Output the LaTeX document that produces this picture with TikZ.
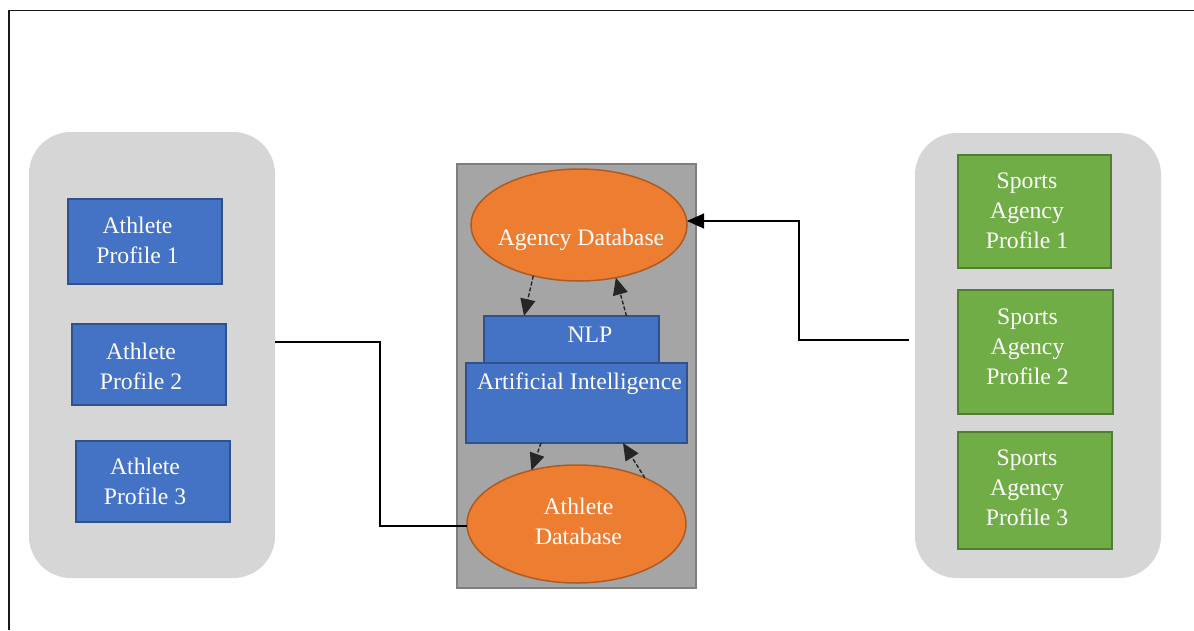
\documentclass[tikz,border=0pt]{standalone}
\usepackage{fontspec}
\setmainfont{Liberation Serif}
\usetikzlibrary{arrows.meta,shapes.geometric}
\definecolor{panelgray}{HTML}{D6D6D6}
\definecolor{coregray}{HTML}{A5A5A5}
\definecolor{coreedge}{HTML}{7F7F7F}
\definecolor{blueF}{HTML}{4472C4}
\definecolor{blueE}{HTML}{2F528F}
\definecolor{greenF}{HTML}{70AD47}
\definecolor{greenE}{HTML}{507E32}
\definecolor{orangeF}{HTML}{ED7D31}
\definecolor{orangeE}{HTML}{AE5A21}
\newcommand{\diagfont}{\fontsize{23.7}{30}\selectfont}
\tikzset{
  txt/.style={text=white, font=\diagfont, align=center, inner sep=0pt},
  panel/.style={fill=panelgray, draw=none, rounded corners=42pt, inner sep=0pt, outer sep=0pt},
  bluebox/.style={fill=blueF, draw=blueE, line width=1.8pt, inner sep=0pt, outer sep=0pt, minimum width=154pt},
  greenbox/.style={fill=greenF, draw=greenE, line width=1.8pt, inner sep=0pt, outer sep=0pt, minimum width=154pt},
  dbell/.style={ellipse, fill=orangeF, draw=orangeE, line width=1.5pt, inner sep=0pt, outer sep=0pt},
  link/.style={draw=black, line width=1.1pt},
  dlink/.style={draw=black!85, line width=1.4pt, dash pattern=on 4pt off 2pt, -{Triangle[length=17pt,width=15pt]}},
}
\begin{document}
\begin{tikzpicture}[x=1pt,y=-1pt]
\useasboundingbox (0,0) rectangle (1194,630);
\fill[white] (0,0) rectangle (1194,630);
% outer frame
\draw[line width=1.6pt, black!90] (1194,10.5) -- (9,10.5) -- (9,630);

% side panels
\node[panel, minimum width=246pt, minimum height=446pt] (lp) at (152,355) {};
\node[panel, minimum width=246pt, minimum height=445pt] (rp) at (1038,355.5) {};

% athlete profiles
\node[bluebox, minimum height=85pt, label={[txt,xshift=-7.5pt,yshift=1pt]center:{Athlete\\Profile 1}}] (ap1) at (145,241.5) {};
\node[bluebox, minimum height=81pt, label={[txt,xshift=-8pt,yshift=-1.5pt]center:{Athlete\\Profile 2}}] (ap2) at (149,364.5) {};
\node[bluebox, minimum height=81pt, label={[txt,xshift=-8pt,yshift=0pt]center:{Athlete\\Profile 3}}] (ap3) at (153,481.5) {};

% sports agency profiles
\node[greenbox, minimum width=153pt, minimum height=113pt, label={[txt,xshift=-7.5pt,yshift=1pt]center:{Sports\\Agency\\Profile 1}}] (sp1) at (1034.5,211.5) {};
\node[greenbox, minimum width=155pt, minimum height=124pt, label={[txt,xshift=-8pt,yshift=5pt]center:{Sports\\Agency\\Profile 2}}] (sp2) at (1035.5,352) {};
\node[greenbox, minimum height=117pt, label={[txt,xshift=-8pt,yshift=2.5pt]center:{Sports\\Agency\\Profile 3}}] (sp3) at (1035,490.5) {};

% central system
\node[fill=coregray, draw=coreedge, line width=2pt, minimum width=239pt, minimum height=424pt, inner sep=0pt, outer sep=0pt] (core) at (576.5,376) {};
\node[dbell, minimum width=216pt, minimum height=112pt, label={[txt,yshift=-15pt,xshift=2pt]center:Agency Database}] (agency) at (579,225) {};
\node[dbell, minimum width=219pt, minimum height=118pt, label={[txt,yshift=3pt,xshift=2pt]center:{Athlete\\Database}}] (athlete) at (576.5,524) {};
\node[bluebox, minimum width=175pt, minimum height=47pt, label={[txt,xshift=18.5pt,yshift=5pt]center:NLP}] (nlp) at (571.5,339.5) {};
\node[bluebox, minimum width=221pt, minimum height=80pt, label={[txt,xshift=3pt,yshift=19pt]center:Artificial Intelligence}] (ai) at (576.5,403) {};

% dashed arrows
\draw[dlink] (agency.228.6) -- ([xshift=-47.5pt]nlp.north);
\draw[dlink] ([xshift=55pt]nlp.north) -- (agency.305);
\draw[dlink] ([xshift=-35.5pt]ai.south) -- (athlete.130.3);
\draw[dlink] (athlete.34.6) -- ([xshift=46.5pt]ai.south);

% connectors
\draw[link] ([yshift=13pt]lp.east) -- ++(105,0) |- ([yshift=-2pt]athlete.west);
\coordinate (rpin) at (909,340);
\draw[link, -{Triangle[length=17pt,width=15pt]}] (rpin) -- ++(-110,0) |- ([yshift=4pt]agency.east);
\end{tikzpicture}
\end{document}
